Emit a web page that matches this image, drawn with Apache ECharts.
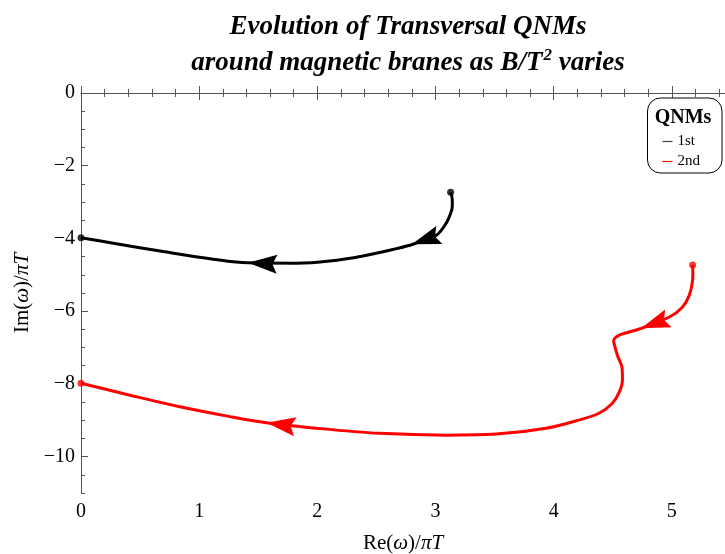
<!DOCTYPE html>
<html>
<head>
<meta charset="utf-8">
<script src="https://cdn.jsdelivr.net/npm/echarts@6/dist/echarts.min.js"></script>
<style>
  html, body { margin: 0; padding: 0; background: #fff; }
  #chart { width: 725px; height: 554px; }
</style>
</head>
<body>
<div id="chart"></div>
<script>
// Quasinormal mode trajectories in the complex frequency plane,
// ordered from the starting dot toward the imaginary axis.
const firstMode = [
  [3.128, -2.73], [3.142, -2.93], [3.142, -3.13], [3.122, -3.36], [3.091, -3.58],
  [3.007, -3.91], [2.809, -4.16], [2.669, -4.28], [2.386, -4.48], [2.105, -4.62],
  [1.823, -4.68], [1.414, -4.67], [1.118, -4.57], [0.696, -4.36], [0.273, -4.13],
  [0.000, -3.98]
];
const secondMode = [
  [5.176, -4.73], [5.178, -4.93], [5.176, -5.14], [5.148, -5.56], [5.089, -5.89],
  [4.979, -6.16], [4.725, -6.49], [4.570, -6.64], [4.525, -6.72], [4.508, -6.80],
  [4.512, -6.90], [4.539, -7.21], [4.579, -7.56], [4.582, -7.89], [4.556, -8.22],
  [4.497, -8.53], [4.387, -8.80], [4.218, -8.99], [3.937, -9.22], [3.514, -9.38],
  [3.091, -9.41], [2.527, -9.36], [1.961, -9.21], [1.570, -9.07], [1.260, -8.90],
  [0.837, -8.63], [0.414, -8.31], [0.000, -7.98]
];
// Arrowhead tips placed along each trajectory
const firstArrows = [[2.80, -4.16], [1.414, -4.67]];
const secondArrows = [[4.74, -6.47], [1.57, -9.07]];

const modeNames = ['1st', '2nd'];
const modeColors = ['#000000', '#ff0000'];
const legendLineColors = ['#444444', '#ff0000'];
const yTickValues = [-10, -8, -6, -4, -2, 0];

const serif = 'Liberation Serif, Times New Roman, serif';
const frameColor = '#555555';

function arrowSeries(curve, tips, color) {
  return {
    type: 'custom',
    coordinateSystem: 'cartesian2d',
    data: tips,
    silent: true,
    clip: false,
    z: 5,
    renderItem: function (params, api) {
      const tip = api.coord([api.value(0), api.value(1)]);
      const pts = curve.map(p => api.coord(p));
      let best = 0, bestD = Infinity;
      pts.forEach((p, i) => {
        const d = (p[0] - tip[0]) ** 2 + (p[1] - tip[1]) ** 2;
        if (d < bestD) { bestD = d; best = i; }
      });
      const a = pts[Math.max(0, best - 1)];
      const b = pts[Math.min(pts.length - 1, best + 1)];
      let dx = b[0] - a[0], dy = b[1] - a[1];
      const len = Math.hypot(dx, dy) || 1;
      dx /= len; dy /= len;
      const nx = -dy, ny = dx;
      const L = 29, W = 9.5, notch = 0.84 * L;
      const back = [tip[0] - dx * L, tip[1] - dy * L];
      const head = [
        tip,
        [back[0] + nx * W, back[1] + ny * W],
        [tip[0] - dx * notch, tip[1] - dy * notch],
        [back[0] - nx * W, back[1] - ny * W]
      ];
      return { type: 'polygon', shape: { points: head }, style: { fill: color } };
    }
  };
}

function endDots(curve, color) {
  return {
    type: 'scatter',
    data: [curve[0], curve[curve.length - 1]],
    symbol: 'circle',
    symbolSize: 7,
    itemStyle: { color: color },
    clip: false,
    silent: true,
    z: 6
  };
}

const chart = echarts.init(document.getElementById('chart'), null, { renderer: 'canvas' });

const xBase = {
  type: 'value', min: 0, max: 5.45, interval: 1,
  axisLine: { lineStyle: { color: frameColor, width: 1 } },
  axisTick: { inside: true, length: 7, lineStyle: { color: frameColor } },
  minorTick: { show: true, splitNumber: 5, length: 4, lineStyle: { color: frameColor } },
  splitLine: { show: false }
};

const nameRich = {
  n: { fontFamily: serif, fontSize: 21, color: '#000' },
  i: { fontFamily: serif, fontSize: 21, fontStyle: 'italic', color: '#000' }
};

chart.setOption({
  animation: false,
  backgroundColor: '#ffffff',
  title: {
    text: 'Evolution of Transversal QNMs\naround magnetic branes as B/T{sup|2} varies',
    left: 403, top: 4, textAlign: 'center',
    textStyle: {
      fontFamily: serif, fontWeight: 'bold', fontStyle: 'italic',
      fontSize: 27, lineHeight: 36, color: '#000',
      rich: {
        sup: { fontFamily: serif, fontWeight: 'bold', fontSize: 17, color: '#000', padding: [0, 0, 14, 1] }
      }
    }
  },
  grid: {
    left: 81, top: 93, right: 0, bottom: 61,
    containLabel: false, outerBoundsMode: 'none'
  },
  legend: {
    orient: 'vertical', right: 3, top: 98,
    data: modeNames.map((n, i) => ({ name: n, itemStyle: { color: legendLineColors[i] } })),
    icon: 'rect', itemWidth: 10, itemHeight: 1.2, itemGap: 5,
    padding: [36, 22, 4, 15],
    borderColor: '#000', borderWidth: 1, borderRadius: 13,
    backgroundColor: '#fff',
    textStyle: { fontFamily: serif, fontSize: 15, color: '#000' }
  },
  graphic: [{
    type: 'text', x: 683, y: 118, z: 100,
    style: {
      text: 'QNMs', fontFamily: serif, fontWeight: 'bold', fontSize: 20, fill: '#000',
      align: 'center', verticalAlign: 'middle'
    }
  }],
  xAxis: [
    Object.assign({}, xBase, {
      position: 'bottom',
      axisLabel: {
        margin: 9, fontFamily: serif, fontSize: 20, color: '#000',
        formatter: v => (Math.abs(v - Math.round(v)) < 1e-6 ? String(Math.round(v)) : '')
      },
      name: '{n|Re(}{i|ω}{n|)/}{i|πT}', nameLocation: 'middle', nameGap: 40,
      nameTextStyle: { rich: nameRich }
    }),
    Object.assign({}, xBase, { position: 'top', axisLabel: { show: false } })
  ],
  yAxis: [
    {
      type: 'value', min: -11, max: 0, interval: 1, position: 'left',
      axisLine: { show: true, lineStyle: { color: frameColor, width: 1 } },
      axisTick: { inside: true, length: 7, customValues: yTickValues, lineStyle: { color: frameColor } },
      axisLabel: {
        customValues: yTickValues, margin: 6, fontFamily: serif, fontSize: 20, color: '#000',
        formatter: v => (v < 0 ? '\u2212' + Math.abs(v) : String(v))
      },
      splitLine: { show: false },
      name: '{n|Im(}{i|ω}{n|)/}{i|πT}', nameLocation: 'middle', nameGap: 48,
      nameTextStyle: { rich: nameRich }
    },
    {
      type: 'value', min: -11, max: 0, interval: 0.5, position: 'left',
      axisLine: { show: false },
      axisTick: { inside: true, length: 4, lineStyle: { color: frameColor } },
      axisLabel: { show: false },
      splitLine: { show: false }
    }
  ],
  series: [
    {
      name: modeNames[0], type: 'line', data: firstMode, smooth: 0.35,
      showSymbol: false, clip: false,
      lineStyle: { color: modeColors[0], width: 3 }, itemStyle: { color: modeColors[0] }
    },
    {
      name: modeNames[1], type: 'line', data: secondMode, smooth: 0.35,
      showSymbol: false, clip: false,
      lineStyle: { color: modeColors[1], width: 3 }, itemStyle: { color: modeColors[1] }
    },
    arrowSeries(firstMode, firstArrows, modeColors[0]),
    arrowSeries(secondMode, secondArrows, modeColors[1]),
    endDots(firstMode, modeColors[0]),
    endDots(secondMode, modeColors[1])
  ]
});
</script>
</body>
</html>
